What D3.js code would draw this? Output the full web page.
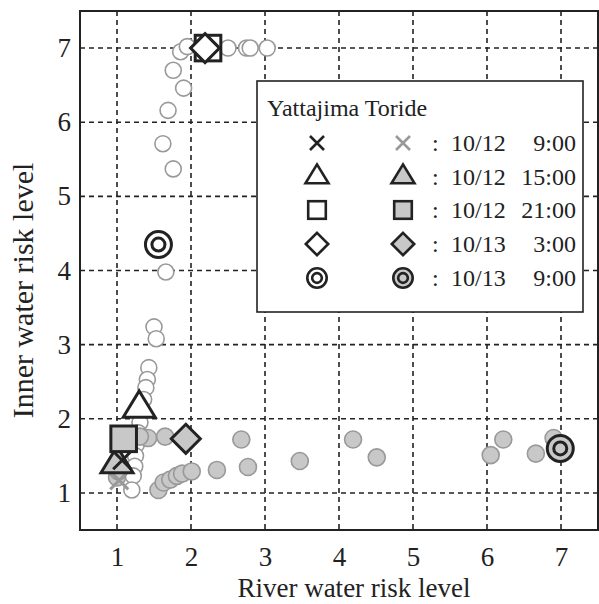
<!DOCTYPE html>
<html>
<head>
<meta charset="utf-8">
<script src="https://cdn.jsdelivr.net/npm/d3@7"></script>
<style>
  html, body { margin: 0; padding: 0; background: #fff; }
  svg { display: block; }
  text { font-family: "Liberation Serif", "Times New Roman", serif; fill: #222; }
</style>
</head>
<body>
<script>
// ---- data ----
const openTrackX = [1.86, 1.95, 1.76, 1.90, 1.69, 1.62, 1.76, 1.66, 2.50, 2.75, 2.80, 3.03,
                    1.50, 1.53, 1.43, 1.41, 1.39, 1.36, 1.33, 1.31, 1.29, 1.26, 1.25, 1.24, 1.22, 1.20];
const openTrackY = [6.95, 7.02, 6.70, 6.46, 6.16, 5.71, 5.37, 3.98, 7.00, 7.00, 7.00, 7.00,
                    3.24, 3.08, 2.69, 2.53, 2.42, 2.26, 2.08, 1.95, 1.81, 1.65, 1.50, 1.36, 1.23, 1.04];
const greyTrackX = [2.68, 2.35, 2.77, 3.47, 4.19, 4.51, 6.22, 6.05, 6.66, 6.90,
                    1.42, 1.65, 1.31, 1.56, 1.63, 1.72, 1.81, 1.88, 2.01, 1.00, 1.02];
const greyTrackY = [1.72, 1.31, 1.35, 1.43, 1.72, 1.48, 1.72, 1.51, 1.53, 1.74,
                    1.74, 1.76, 1.76, 1.04, 1.14, 1.18, 1.23, 1.26, 1.29, 1.21, 1.29];
const markerTypes = ["x", "triangle", "square", "diamond", "target"];
const timeDates = ["10/12", "10/12", "10/12", "10/13", "10/13"];
const timeHours = ["9:00", "15:00", "21:00", "3:00", "9:00"];
const openMarkX = [1.07, 1.30, 2.23, 2.19, 1.56];
const openMarkY = [1.44, 2.14, 7.00, 7.00, 4.35];
const greyMarkX = [1.03, 1.00, 1.09, 1.93, 6.99];
const greyMarkY = [1.17, 1.39, 1.73, 1.73, 1.60];
const axisTicks = [1, 2, 3, 4, 5, 6, 7];
const legendTitle = "Yattajima Toride";
const xTitle = "River water risk level";
const yTitle = "Inner water risk level";

// ---- layout ----
const W = 599, H = 604;
const L = 80, R = 598, T = 11, B = 530;
const DARK = "#222", GREYFILL = "#c8c8c8", GREYLINE = "#999";

const svg = d3.select("body").append("svg").attr("width", W).attr("height", H);
const x = d3.scaleLinear().domain([0.5, 7.5]).range([L, R]);
const y = d3.scaleLinear().domain([0.5, 7.5]).range([B, T]);

// grid
const grid = svg.append("g");
grid.selectAll("line.vx").data(axisTicks).join("line")
  .attr("x1", d => x(d)).attr("x2", d => x(d)).attr("y1", T).attr("y2", B)
  .attr("stroke", DARK).attr("stroke-width", 1.6).attr("stroke-dasharray", "5,4");
grid.selectAll("line.hy").data(axisTicks).join("line")
  .attr("y1", d => y(d)).attr("y2", d => y(d)).attr("x1", L).attr("x2", R)
  .attr("stroke", DARK).attr("stroke-width", 1.6).attr("stroke-dasharray", "5,4");

// axes
const xa = svg.append("g").attr("transform", `translate(0,${B})`)
  .call(d3.axisBottom(x).tickValues(axisTicks).tickSize(0).tickPadding(17).tickFormat(d3.format("d")));
const ya = svg.append("g").attr("transform", `translate(${L},0)`)
  .call(d3.axisLeft(y).tickValues(axisTicks).tickSize(0).tickPadding(9).tickFormat(d3.format("d")));
[xa, ya].forEach(a => {
  a.select(".domain").remove();
  a.selectAll("text").attr("font-family", "Liberation Serif, serif").attr("font-size", 27).attr("fill", DARK);
});

// frame
svg.append("rect").attr("x", L).attr("y", T).attr("width", R - L).attr("height", B - T)
  .attr("fill", "none").attr("stroke", DARK).attr("stroke-width", 2);

// tracks
const tracks = svg.append("g");
tracks.selectAll("circle.open").data(d3.range(openTrackX.length)).join("circle")
  .attr("cx", i => x(openTrackX[i])).attr("cy", i => y(openTrackY[i])).attr("r", 8)
  .attr("fill", "#fff").attr("stroke", GREYLINE).attr("stroke-width", 1.6);
tracks.selectAll("circle.grey").data(d3.range(greyTrackX.length)).join("circle")
  .attr("cx", i => x(greyTrackX[i])).attr("cy", i => y(greyTrackY[i])).attr("r", 8.5)
  .attr("fill", GREYFILL).attr("stroke", GREYLINE).attr("stroke-width", 1.6);

// marker drawer
function drawMarker(g, type, cx, cy, s, fill, stroke, sw) {
  const m = g.append("g").attr("transform", `translate(${cx},${cy})`);
  if (type === "x") {
    const h = s / 2;
    m.append("path").attr("d", `M${-h},${-h}L${h},${h}M${-h},${h}L${h},${-h}`)
      .attr("stroke", stroke).attr("stroke-width", sw).attr("fill", "none");
  } else if (type === "triangle") {
    const w = s, hh = s * 0.82;
    m.append("path").attr("d", `M0,${-2 * hh / 3}L${w / 2},${hh / 3}L${-w / 2},${hh / 3}Z`)
      .attr("fill", fill).attr("stroke", stroke).attr("stroke-width", sw).attr("stroke-linejoin", "miter");
  } else if (type === "square") {
    const h = s * 0.8 / 2;
    m.append("rect").attr("x", -h).attr("y", -h).attr("width", 2 * h).attr("height", 2 * h)
      .attr("fill", fill).attr("stroke", stroke).attr("stroke-width", sw);
  } else if (type === "diamond") {
    const h = s / 2 - sw / 2;
    m.append("path").attr("d", `M0,${-h}L${h},0L0,${h}L${-h},0Z`)
      .attr("fill", fill).attr("stroke", stroke).attr("stroke-width", sw);
  } else if (type === "target") {
    const ro = s / 2 - sw / 2;
    m.append("circle").attr("r", ro).attr("fill", fill).attr("stroke", stroke).attr("stroke-width", sw);
    m.append("circle").attr("r", ro * 0.5).attr("fill", fill).attr("stroke", stroke).attr("stroke-width", sw);
  }
}

// plot markers
const marks = svg.append("g");
const plotSize = { x: 18, triangle: 32, square: 32, diamond: 32, target: 29 };
markerTypes.forEach((t, i) => {
  drawMarker(marks, t, x(greyMarkX[i]), y(greyMarkY[i]), plotSize[t],
    GREYFILL, t === "x" ? GREYLINE : DARK, 3);
});
markerTypes.forEach((t, i) => {
  drawMarker(marks, t, x(openMarkX[i]), y(openMarkY[i]), plotSize[t], "#fff", DARK, 3);
});

// legend
const lg = svg.append("g");
lg.append("rect").attr("x", 257).attr("y", 81).attr("width", 326).attr("height", 231)
  .attr("fill", "#fff").attr("stroke", DARK).attr("stroke-width", 1.6);
lg.append("text").attr("x", 267).attr("y", 116).attr("font-size", 24).text(legendTitle);
const rowY = [143, 177, 210, 244, 278];
const legSize = { x: 14, triangle: 23, square: 22, diamond: 25, target: 22 };
markerTypes.forEach((t, i) => {
  drawMarker(lg, t, 317, rowY[i], legSize[t], "#fff", DARK, 2.6);
  drawMarker(lg, t, 403, rowY[i], legSize[t], GREYFILL, t === "x" ? GREYLINE : DARK, 2.6);
  lg.append("text").attr("x", 432).attr("y", rowY[i] + 8).attr("font-size", 24).text(":");
  lg.append("text").attr("x", 451).attr("y", rowY[i] + 8).attr("font-size", 24).text(timeDates[i]);
  lg.append("text").attr("x", 576).attr("y", rowY[i] + 8).attr("font-size", 24)
    .attr("text-anchor", "end").text(timeHours[i]);
});

// axis titles
svg.append("text").attr("x", (L + R) / 2 + 15).attr("y", 597).attr("text-anchor", "middle")
  .attr("font-size", 27).text(xTitle);
svg.append("text").attr("transform", `translate(33,${(T + B) / 2 + 20}) rotate(-90)`)
  .attr("text-anchor", "middle").attr("font-size", 30).text(yTitle);
</script>
</body>
</html>
